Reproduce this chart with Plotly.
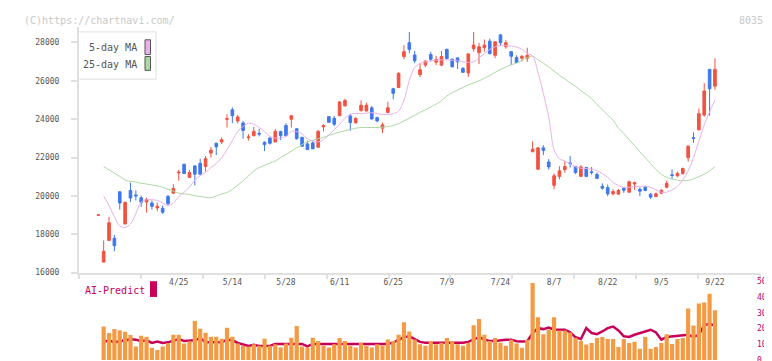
import plotly.graph_objects as go

# ---------------- data ----------------
tick_idx = [15, 25, 35, 45, 55, 65, 75, 85, 95, 105, 115]
tick_labels = ["4/25", "5/14", "5/28", "6/11", "6/25", "7/9", "7/24", "8/7", "8/22", "9/5", "9/22"]
price_ticks = [16000, 18000, 20000, 22000, 24000, 26000, 28000]
ai_ticks = [0, 10, 20, 30, 40, 50]

opens = [18990, 16547, 17677, 17797, 20210, 18533, 20279, 20050, 19902, 19680,
         19628, 19372, 19355, 19971, 20142, 21200, 21648, 20963, 21563, 21700,
         21529, 22230, 22744, 22813, 23994, 24490, 23908, 23806, 23035, 23138,
         23258, 22796, 23018, 22813, 23360, 23668, 23994, 23497, 23052, 22710,
         22761, 22539, 23600, 24131, 24045, 24182, 24696, 24165, 23806, 24456,
         24422, 24593, 24080, 23532, 24353, 25586, 25655, 27264, 27983, 27349,
         26322, 26819, 27366, 26973, 26819, 27640, 27127, 27195, 26647, 26408,
         27675, 27469, 27726, 28068, 27332, 28394, 27777, 27521, 27212, 27178,
         27178, 22299, 21392, 22504, 21769, 20553, 21015, 21375, 21717, 21529,
         21015, 21478, 21255, 21118, 20501, 20433, 20108, 20090, 20399, 20193,
         20621, 20347, 20450, 20090, 19971, 20142, 20450, 21100, 21049, 21169,
         21991, 23035, 23446, 24216, 26596, 25723]
highs = [19010, 17677, 18909, 17968, 20245, 19697, 20690, 20279, 20022, 19902,
         19765, 19663, 19491, 20056, 20604, 21357, 21683, 21357, 21597, 21940,
         22077, 22556, 22778, 23052, 24251, 24610, 24216, 23908, 23223, 23600,
         23497, 22847, 23052, 23497, 23395, 23789, 24216, 23532, 23086, 22881,
         22881, 23446, 23737, 24165, 24165, 24935, 25072, 24285, 24097, 24987,
         24850, 24696, 24131, 23823, 24901, 25637, 26442, 27863, 28548, 27555,
         26921, 27075, 27521, 27298, 27555, 27675, 27161, 27230, 26716, 27435,
         28548, 27983, 28154, 28205, 28068, 28445, 28120, 27555, 27332, 27332,
         27726, 22847, 22539, 22642, 21922, 21169, 21546, 21820, 22077, 21563,
         21597, 21512, 21512, 21220, 20656, 20587, 20347, 20364, 20450, 20792,
         20741, 20450, 20536, 20142, 20176, 20347, 20792, 21392, 21272, 21478,
         22642, 23309, 24559, 25877, 26613, 27178]
lows = [18990, 16547, 17677, 17112, 19286, 18533, 19680, 19765, 19423, 19132,
        19286, 19200, 19063, 19474, 20108, 20792, 21135, 20963, 20553, 21100,
        21272, 21991, 22128, 22710, 23566, 23789, 23771, 22984, 22881, 23104,
        23104, 22333, 22676, 22796, 22915, 23104, 23566, 22932, 22556, 22385,
        22453, 22505, 23360, 23806, 23634, 24148, 24662, 23395, 23789, 24388,
        24422, 23977, 23840, 23275, 24353, 25038, 25620, 27127, 27435, 26921,
        26185, 26716, 27007, 26819, 26767, 27127, 26699, 26613, 26408, 26202,
        27521, 26870, 27521, 27384, 27178, 27812, 27675, 26819, 26921, 27007,
        26990, 22299, 21358, 22128, 21375, 20347, 20861, 21203, 21478, 21135,
        21015, 21015, 21100, 20878, 20330, 19988, 20022, 20090, 20159, 20176,
        20313, 19988, 20245, 19834, 19936, 20090, 20399, 20878, 20963, 21100,
        21786, 22761, 23412, 24131, 24182, 25535]
closes = [19010, 17112, 18601, 17403, 19628, 19663, 19885, 20000, 19663, 19817,
          19457, 19457, 19149, 19594, 20382, 21240, 21169, 21220, 21135, 21135,
          21940, 22385, 22556, 22932, 24028, 24182, 24114, 23412, 23069, 23360,
          23223, 22676, 22744, 23360, 23138, 23138, 24182, 22984, 22590, 22419,
          22453, 23360, 23668, 23840, 23737, 24901, 24970, 23823, 24045, 24730,
          24730, 24011, 23908, 23703, 24593, 25346, 26391, 27521, 27640, 27041,
          26579, 27024, 27127, 27110, 27264, 27161, 26733, 26990, 26442, 27401,
          27863, 27777, 27863, 27418, 28034, 27983, 27983, 27281, 26956, 27281,
          27332, 22436, 22504, 22368, 21512, 21049, 21306, 21529, 21683, 21220,
          21512, 21015, 21220, 20912, 20399, 20108, 20228, 20279, 20296, 20741,
          20690, 20245, 20279, 19936, 20108, 20296, 20656, 21066, 21169, 21426,
          22590, 23001, 24285, 25466, 25586, 26596]

ma5 = [None, 19988, 19508, 18909, 18430, 18362, 18533, 19080, 19680, 19800,
       19800, 19765, 19628, 19508, 19628, 19971, 20193, 20450, 20827, 21049,
       21220, 21477, 21683, 21991, 22419, 22881, 23360, 23617, 23789, 23737,
       23566, 23360, 23104, 23018, 23018, 23104, 23360, 23360, 23223, 22984,
       22847, 22813, 22932, 23189, 23446, 23737, 24045, 24251, 24302, 24285,
       24319, 24336, 24285, 24251, 24251, 24285, 24422, 24987, 26014, 26699,
       26904, 26990, 27041, 27075, 27093, 27093, 27075, 27041, 26990, 26956,
       26990, 27212, 27418, 27640, 27777, 27846, 27846, 27812, 27760, 27640,
       27435, 27298, 26442, 25330, 24131, 22419, 21940, 21820, 21683, 21512,
       21443, 21426, 21392, 21306, 21169, 20964, 20707, 20536, 20450, 20450,
       20484, 20501, 20501, 20450, 20313, 20193, 20193, 20313, 20501, 20827,
       21306, 21991, 22847, 23703, 24388, 24987]
ma25 = [None, 21529, 21358, 21186, 21015, 20827, 20758, 20724, 20656, 20621,
        20570, 20519, 20450, 20347, 20245, 20142, 20108, 20074, 20005, 19971,
        19919, 19902, 19988, 20108, 20176, 20347, 20553, 20792, 21032, 21306,
        21478, 21597, 21717, 21820, 21991, 22162, 22333, 22505, 22676, 22813,
        22898, 22984, 23052, 23155, 23241, 23326, 23395, 23463, 23532, 23566,
        23566, 23566, 23566, 23583, 23617, 23668, 23771, 23908, 24045, 24199,
        24353, 24490, 24644, 24781, 24969, 25209, 25380, 25517, 25654, 25791,
        25894, 25997, 26134, 26271, 26442, 26596, 26716, 26836, 26921, 27058,
        27212, 27281, 27093, 26921, 26733, 26510, 26288, 26100, 25894, 25706,
        25483, 25295, 25072, 24764, 24490, 24216, 23942, 23532, 23258, 22932,
        22624, 22299, 21991, 21683, 21375, 21118, 20964, 20878, 20827, 20792,
        20809, 20895, 20998, 21135, 21306, 21529]

volume = [None, 21.2, 17.1, 19.6, 18.9, 17.9, 15.8, 8.5, 15.4, 14.8,
          7.7, 6.4, 8.5, 10.8, 16.0, 16.0, 10.4, 11.9, 24.8, 19.8,
          17.3, 14.8, 14.8, 13.5, 20.4, 14.8, 10.4, 9.1, 8.5, 10.0,
          9.1, 13.5, 9.1, 10.0, 7.9, 10.4, 14.1, 21.6, 8.5, 7.9,
          14.1, 12.0, 9.0, 8.0, 10.0, 14.0, 12.0, 9.0, 8.0, 11.0,
          9.0, 8.0, 10.0, 9.0, 13.0, 12.0, 16.0, 24.0, 18.0, 13.0,
          10.0, 9.0, 12.0, 10.0, 11.0, 14.0, 12.0, 10.0, 9.0, 11.0,
          22.0, 26.0, 16.0, 12.0, 14.0, 11.0, 9.0, 12.9, 10.4, 7.7,
          12.9, 48.9, 27.1, 16.4, 19.2, 27.1, 18.7, 18.7, 17.5, 14.1,
          12.1, 9.8, 10.8, 13.9, 14.6, 13.3, 13.3, 8.3, 13.3, 10.8,
          11.6, 7.1, 14.6, 7.1, 8.3, 10.8, 16.4, 10.2, 13.3, 14.0,
          32.7, 21.9, 35.8, 36.4, 42.1, 31.6]
ai_predict = [None, 11.4, 12.5, 11.2, 11.9, 12.5, 13.1, 12.9, 11.9, 12.5,
              10.8, 11.7, 10.8, 11.2, 12.1, 13.3, 12.1, 12.1, 12.5, 13.9,
              11.2, 11.2, 11.2, 11.2, 12.9, 12.5, 10.8, 9.6, 8.9, 9.6,
              8.9, 8.9, 8.9, 10.2, 10.2, 10.2, 10.2, 10.2, 10.2, 8.7,
              10.2, 10.2, 10.2, 10.2, 10.2, 10.2, 10.2, 10.2, 10.2, 10.2,
              10.2, 10.2, 10.2, 10.2, 10.2, 11.0, 13.0, 14.5, 15.0, 13.0,
              11.5, 11.0, 11.0, 11.0, 11.0, 11.0, 11.0, 11.0, 11.0, 11.5,
              13.0, 14.5, 13.0, 12.0, 12.0, 12.5, 12.8, 12.9, 11.9, 11.7,
              11.9, 17.1, 20.2, 19.6, 20.6, 19.2, 19.2, 19.2, 17.5, 14.4,
              13.3, 20.2, 17.1, 16.4, 18.1, 20.2, 21.2, 18.7, 15.0, 14.6,
              16.0, 17.1, 18.1, 19.2, 17.5, 12.9, 14.6, 15.0, 15.0, 15.8,
              16.0, 14.6, 16.0, 22.2, 22.9, 21.8]

idx = list(range(len(closes)))

# ---------------- styling ----------------
W, H = 772, 361
ML, MR, MT, MB = 71, 20, 19, 4
PW, PH = W - ML - MR, H - MT - MB
FONT = "DejaVu Sans Mono"
RED, BLUE = "#F25240", "#3F78EC"
PINK, GREEN = "#E8B0E8", "#ABD9A2"
ORANGE, CRIMSON = "#F39A42", "#C8005A"
AXC = "#E0E0E0"


def px(x):
    return (x - ML) / PW


def py(y):
    return (H - MB - y) / PH


fig = go.Figure()

fig.add_trace(go.Bar(x=idx, y=volume, marker_color=ORANGE, marker_line_width=0,
                     width=0.78, xaxis="x2", yaxis="y3", showlegend=False))
fig.add_trace(go.Scatter(x=idx, y=ai_predict, mode="lines", line=dict(color=CRIMSON, width=2.5),
                         xaxis="x2", yaxis="y2", showlegend=False))

fig.add_trace(go.Scatter(x=idx, y=ma25, mode="lines", line=dict(color=GREEN, width=1, shape="spline"),
                         showlegend=False))
fig.add_trace(go.Scatter(x=idx, y=ma5, mode="lines", line=dict(color=PINK, width=1, shape="spline"),
                         showlegend=False))
fig.add_trace(go.Candlestick(x=idx, open=opens, high=highs, low=lows, close=closes,
                             increasing=dict(line=dict(color=RED, width=1), fillcolor=RED),
                             decreasing=dict(line=dict(color=BLUE, width=1), fillcolor=BLUE),
                             whiskerwidth=0, showlegend=False))
# invisible trace to hold the decorative tick axis
fig.add_trace(go.Scatter(x=[0, 11], y=[20000, 20000], mode="markers", marker=dict(opacity=0),
                         xaxis="x3", yaxis="y", showlegend=False, hoverinfo="skip"))

split_top = (H - MB - 268.3) / PH
low_top = (H - MB - 275) / PH

fig.update_layout(
    width=W, height=H, margin=dict(l=ML, r=MR, t=MT, b=MB),
    paper_bgcolor="white", plot_bgcolor="white",
    font=dict(family=FONT, size=8, color="#555555"),
    xaxis=dict(domain=[0, 1], anchor="y", range=[-3.6, 123.4], tickmode="array",
               tickvals=tick_idx, ticktext=tick_labels, ticks="", showline=True,
               linecolor=AXC, linewidth=2, showgrid=False, zeroline=False,
               tickfont=dict(family=FONT, size=8, color="#555555"),
               ticklabelstandoff=1, rangeslider=dict(visible=False)),
    xaxis3=dict(overlaying="x", anchor="y", range=[0, 11], tickmode="array",
                tickvals=list(range(12)), ticks="outside", ticklen=5, tickwidth=2,
                tickcolor=AXC, showticklabels=False, showline=False, showgrid=False,
                zeroline=False, side="bottom"),
    yaxis=dict(domain=[split_top, 1], range=[16000, 28806], tickmode="array",
               tickvals=price_ticks, ticktext=[str(v) for v in price_ticks],
               ticks="outside", ticklen=6, tickwidth=1.5, tickcolor=AXC,
               showline=True, linecolor=AXC, linewidth=2, showgrid=False, zeroline=False,
               tickfont=dict(family=FONT, size=8, color="#555555"), ticklabelstandoff=10),
    xaxis2=dict(domain=[0, 1], anchor="y2", matches="x", showticklabels=False,
                showline=False, showgrid=False, zeroline=False, ticks=""),
    yaxis2=dict(domain=[0, low_top], anchor="x2", side="right", range=[0, 51.25],
                tickmode="array", tickvals=ai_ticks, ticktext=[str(v) for v in ai_ticks],
                ticks="", showgrid=False, zeroline=False, showline=False,
                ticklabelstandoff=-4,
                tickfont=dict(family=FONT, size=8, color=CRIMSON)),
    yaxis3=dict(overlaying="y2", range=[0, 51.25], visible=False),
    showlegend=False,
)

# watermark / code
fig.add_annotation(x=px(14), y=py(12), xref="paper", yref="paper", text="(C)https://chartnavi.com/",
                   showarrow=False, xanchor="left", yanchor="middle",
                   font=dict(family=FONT, size=10, color="#C8C8C8"))
fig.add_annotation(x=px(757), y=py(12), xref="paper", yref="paper", text="8035",
                   showarrow=False, xanchor="right", yanchor="middle",
                   font=dict(family=FONT, size=10, color="#C8C8C8"))

# legend box
fig.add_shape(type="rect", xref="paper", yref="paper", x0=px(70.5), x1=px(148), y0=py(72), y1=py(24),
              line=dict(color=AXC, width=1), fillcolor="white", layer="above")
fig.add_annotation(x=px(131), y=py(40), xref="paper", yref="paper", text="5-day MA",
                   showarrow=False, xanchor="right", yanchor="middle",
                   font=dict(family=FONT, size=10, color="#555555"))
fig.add_annotation(x=px(131), y=py(57), xref="paper", yref="paper", text="25-day MA",
                   showarrow=False, xanchor="right", yanchor="middle",
                   font=dict(family=FONT, size=10, color="#555555"))
fig.add_shape(type="rect", xref="paper", yref="paper", x0=px(137), x1=px(142.5), y0=py(47), y1=py(32),
              line=dict(color="#555555", width=1), fillcolor=PINK, layer="above")
fig.add_shape(type="rect", xref="paper", yref="paper", x0=px(137), x1=px(142.5), y0=py(63), y1=py(49),
              line=dict(color="#555555", width=1), fillcolor=GREEN, layer="above")

# AI-Predict label
fig.add_annotation(x=px(75), y=py(286), xref="paper", yref="paper", text="AI-Predict",
                   showarrow=False, xanchor="left", yanchor="middle",
                   font=dict(family=FONT, size=10, color=CRIMSON))
fig.add_shape(type="rect", xref="paper", yref="paper", x0=px(142), x1=px(149), y0=py(293), y1=py(277),
              line=dict(width=0), fillcolor=CRIMSON)

fig.write_html("out.html")
